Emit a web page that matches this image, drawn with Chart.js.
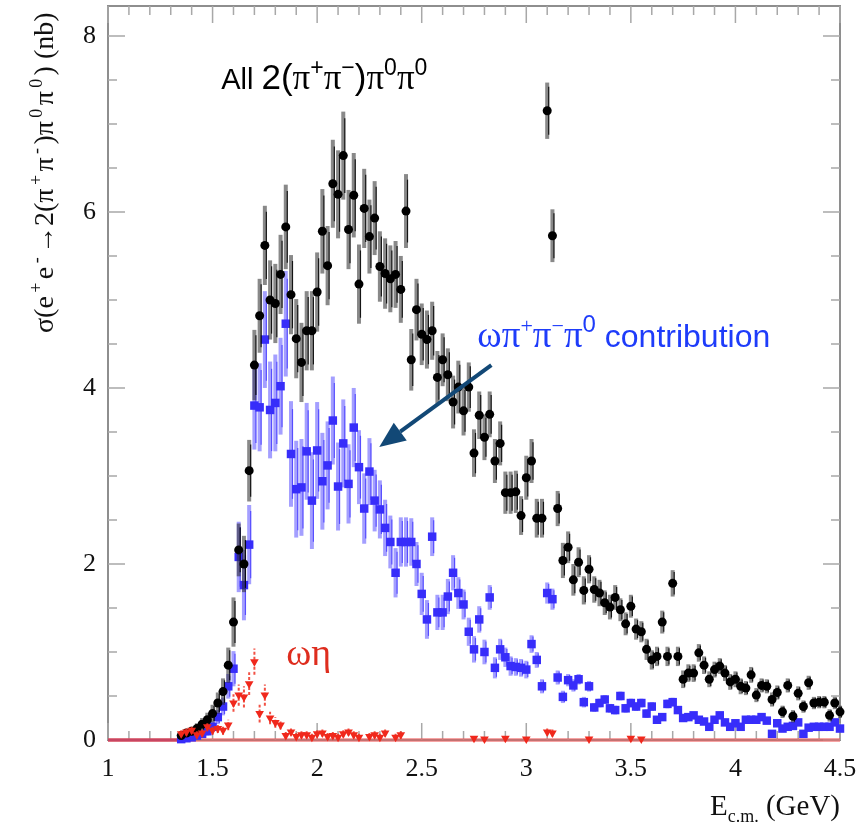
<!DOCTYPE html>
<html>
<head>
<meta charset="utf-8">
<script src="https://cdn.jsdelivr.net/npm/chart.js@4.4.1/dist/chart.umd.min.js"></script>
<style>
  html, body { margin: 0; padding: 0; background: #fff; }
  #wrap { width: 863px; height: 829px; }
</style>
</head>
<body>
<div id="wrap"><canvas id="xsec" width="863" height="829"></canvas></div>
<script>
// bin centres in GeV (25 MeV bins), shared by the full sample and the omega pi pi pi0 part
const energyBins = [
  1.35, 1.375, 1.4, 1.425, 1.45, 1.475, 1.5, 1.525, 1.55, 1.575,
  1.6, 1.625, 1.65, 1.675, 1.7, 1.725, 1.75, 1.775, 1.8, 1.825,
  1.85, 1.875, 1.9, 1.925, 1.95, 1.975, 2.0, 2.025, 2.05, 2.075,
  2.1, 2.125, 2.15, 2.175, 2.2, 2.225, 2.25, 2.275, 2.3, 2.325,
  2.35, 2.375, 2.4, 2.425, 2.45, 2.475, 2.5, 2.525, 2.55, 2.575,
  2.6, 2.625, 2.65, 2.675, 2.7, 2.725, 2.75, 2.775, 2.8, 2.825,
  2.85, 2.875, 2.9, 2.925, 2.95, 2.975, 3.0, 3.025, 3.05, 3.075,
  3.1, 3.125, 3.15, 3.175, 3.2, 3.225, 3.25, 3.275, 3.3, 3.325,
  3.35, 3.375, 3.4, 3.425, 3.45, 3.475, 3.5, 3.525, 3.55, 3.575,
  3.6, 3.625, 3.65, 3.675, 3.7, 3.725, 3.75, 3.775, 3.8, 3.825,
  3.85, 3.875, 3.9, 3.925, 3.95, 3.975, 4.0, 4.025, 4.05, 4.075,
  4.1, 4.125, 4.15, 4.175, 4.2, 4.225, 4.25, 4.275, 4.3, 4.325,
  4.35, 4.375, 4.4, 4.425, 4.45, 4.475, 4.5
];

// all 2(pi+pi-)pi0pi0, nb
const sigmaAll = [
  0.05, 0.08, 0.10, 0.13, 0.18, 0.23, 0.30, 0.42, 0.55, 0.85,
  1.34, 2.16, 2.00, 3.06, 4.26, 4.82, 5.62, 5.00, 4.96, 5.29,
  5.83, 5.06, 4.56, 4.29, 4.65, 4.65, 5.09, 5.78, 5.39, 6.32,
  6.20, 6.64, 5.80, 6.19, 5.18, 6.04, 5.72, 5.93, 5.38, 5.30,
  5.24, 5.29, 5.12, 6.01, 4.32, 4.89, 4.61, 4.55, 4.65, 4.12,
  4.32, 4.15, 3.84, 4.01, 3.74, 4.01, 3.26, 3.69, 3.44, 3.70,
  3.17, 3.37, 2.81, 2.81, 2.82, 2.55, 2.98, 3.17, 2.52, 2.52,
  7.15, 5.73, 2.63, 2.04, 2.19, 1.82, 2.02, 1.70, 1.94, 1.71,
  1.67, 1.56, 1.51, 1.62, 1.48, 1.32, 1.52, 1.26, 1.23, 1.03,
  0.91, 0.95, 1.34, 0.95, 1.78, 0.95, 0.69, 0.76, 0.76, 0.99,
  0.85, 0.69, 0.80, 0.84, 0.76, 0.66, 0.69, 0.61, 0.59, 0.74,
  0.51, 0.62, 0.61, 0.46, 0.54, 0.32, 0.62, 0.27, 0.53, 0.38,
  0.65, 0.42, 0.43, 0.43, 0.28, 0.42, 0.32
];
const errAll = [
  0.03, 0.04, 0.05, 0.06, 0.07, 0.08, 0.10, 0.12, 0.15, 0.20,
  0.28, 0.30, 0.32, 0.35, 0.40, 0.42, 0.45, 0.45, 0.45, 0.45,
  0.48, 0.45, 0.45, 0.45, 0.45, 0.45, 0.45, 0.48, 0.45, 0.50,
  0.50, 0.50, 0.45, 0.48, 0.45, 0.45, 0.42, 0.42, 0.40, 0.40,
  0.38, 0.38, 0.38, 0.42, 0.35, 0.35, 0.35, 0.33, 0.33, 0.30,
  0.30, 0.30, 0.30, 0.30, 0.28, 0.28, 0.27, 0.27, 0.26, 0.26,
  0.25, 0.25, 0.24, 0.24, 0.24, 0.22, 0.25, 0.25, 0.22, 0.22,
  0.32, 0.30, 0.20, 0.20, 0.18, 0.18, 0.17, 0.16, 0.16, 0.15,
  0.15, 0.14, 0.14, 0.14, 0.13, 0.13, 0.13, 0.12, 0.12, 0.12,
  0.11, 0.11, 0.13, 0.11, 0.15, 0.11, 0.10, 0.10, 0.10, 0.10,
  0.10, 0.09, 0.09, 0.09, 0.09, 0.09, 0.09, 0.09, 0.08, 0.09,
  0.08, 0.08, 0.08, 0.08, 0.08, 0.07, 0.08, 0.07, 0.08, 0.07,
  0.08, 0.07, 0.07, 0.07, 0.07, 0.07, 0.07
];

// omega pi+ pi- pi0 contribution, nb
const sigmaOmega3pi = [
  0.01, 0.02, 0.03, 0.05, 0.07, 0.10, 0.15, 0.26, 0.38, 0.61,
  0.81, 2.08, 1.76, 2.22, 3.80, 3.78, 4.55, 3.75, 3.83, 4.02,
  4.73, 3.25, 2.85, 2.87, 3.28, 2.72, 3.29, 2.94, 3.12, 3.63,
  2.88, 3.37, 2.91, 3.55, 3.10, 2.63, 3.05, 2.72, 2.62, 2.41,
  2.25, 1.90, 2.25, 2.25, 2.25, 2.00, 1.66, 1.37, 2.31, 1.45,
  1.45, 1.63, 1.90, 1.67, 1.54, 1.23, 1.03, 1.37, 1.00, 1.62,
  0.82, 1.03, 0.94, 0.84, 0.83, 0.82, 0.80, 1.09, 0.91, 0.61,
  1.67, 1.60, 0.71, 0.49, 0.68, 0.62, 0.69, 0.43, 0.61, 0.37,
  0.42, 0.46, 0.36, 0.34, 0.50, 0.36, 0.42, 0.38, 0.42, 0.30,
  0.38, 0.23, 0.26, 0.41, 0.43, 0.34, 0.25, 0.26, 0.28, 0.23,
  0.21, 0.15, 0.23, 0.28, 0.20, 0.15, 0.19, 0.15, 0.23, 0.23,
  0.23, 0.26, 0.22, 0.07, 0.19, 0.13, 0.15, 0.16, 0.20, 0.07,
  0.14, 0.15, 0.15, 0.15, 0.15, 0.20, 0.13
];
const errOmega3pi = [
  0.01, 0.02, 0.02, 0.03, 0.04, 0.05, 0.06, 0.08, 0.10, 0.14,
  0.20, 0.40, 0.40, 0.45, 0.50, 0.50, 0.55, 0.55, 0.55, 0.55,
  0.60, 0.60, 0.55, 0.55, 0.55, 0.55, 0.55, 0.55, 0.50, 0.50,
  0.50, 0.50, 0.45, 0.45, 0.42, 0.40, 0.38, 0.35, 0.33, 0.32,
  0.30, 0.28, 0.28, 0.28, 0.27, 0.25, 0.24, 0.22, 0.22, 0.20,
  0.20, 0.20, 0.20, 0.18, 0.17, 0.16, 0.15, 0.15, 0.14, 0.14,
  0.12, 0.12, 0.11, 0.11, 0.10, 0.10, 0.10, 0.10, 0.09, 0.08,
  0.12, 0.12, 0.08, 0.07, 0.07, 0.07, 0.06, 0.06, 0.06, 0.05,
  0.05, 0.05, 0.05, 0.05, 0.05, 0.05, 0.05, 0.05, 0.05, 0.05,
  0.05, 0.04, 0.04, 0.05, 0.05, 0.04, 0.04, 0.04, 0.04, 0.04,
  0.04, 0.04, 0.04, 0.04, 0.04, 0.04, 0.04, 0.04, 0.04, 0.04,
  0.04, 0.04, 0.04, 0.04, 0.04, 0.04, 0.04, 0.04, 0.04, 0.04,
  0.04, 0.04, 0.04, 0.04, 0.04, 0.04, 0.04
];

// omega eta
const energyOmegaEta = [
  1.35, 1.375, 1.4, 1.425, 1.45, 1.475, 1.5, 1.525, 1.55, 1.575,
  1.6, 1.625, 1.65, 1.675, 1.7, 1.725, 1.75, 1.775, 1.8, 1.825,
  1.85, 1.875, 1.9, 1.925, 1.95, 1.975, 2.0, 2.025, 2.05, 2.075,
  2.1, 2.125, 2.15, 2.175, 2.2, 2.25, 2.275, 2.3, 2.325, 2.375,
  2.4, 2.75, 2.8, 2.9, 3.0, 3.1, 3.125, 3.3, 3.5, 3.55
];
const sigmaOmegaEta = [
  0.07, 0.09, 0.11, 0.06, 0.08, 0.15, 0.11, 0.13, 0.11, 0.17,
  0.42, 0.51, 0.49, 0.64, 0.89, 0.30, 0.51, 0.25, 0.20, 0.17,
  0.05, 0.09, 0.04, 0.06, 0.06, 0.03, 0.07, 0.08, 0.04, 0.05,
  0.03, 0.07, 0.09, 0.06, 0.03, 0.04, 0.06, 0.03, 0.08, 0.03,
  0.06, 0.02, 0.01, 0.02, 0.01, 0.09, 0.08, 0.01, 0.02, 0.01
];
const errOmegaEta = [
  0.04, 0.04, 0.04, 0.04, 0.04, 0.05, 0.05, 0.05, 0.05, 0.06,
  0.10, 0.12, 0.12, 0.13, 0.15, 0.10, 0.12, 0.07, 0.06, 0.05,
  0.04, 0.04, 0.04, 0.04, 0.04, 0.04, 0.04, 0.04, 0.04, 0.04,
  0.04, 0.04, 0.04, 0.04, 0.04, 0.04, 0.04, 0.04, 0.04, 0.04,
  0.04, 0.03, 0.03, 0.03, 0.03, 0.04, 0.04, 0.03, 0.03, 0.03
];

// zero baseline drawn along the bottom
const baselineE = [1.0, 4.5];
const lowTailE = [1.0, 1.35];
const baselineSigma = [0, 0];

const xTickValues = [1, 1.5, 2, 2.5, 3, 3.5, 4, 4.5];
const yTickValues = [0, 2, 4, 6, 8];

function toPoints(xs, ys) {
  return xs.map((x, i) => ({ x: x, y: ys[i] }));
}

// draws a run of text pieces (plain / sup / sub) one after another,
// optional total spreads the run out to that length
function drawRich(ctx, x, y, parts, total) {
  let w = 0;
  parts.forEach(p => { ctx.font = p.size + 'px ' + p.family; w += ctx.measureText(p.t).width; });
  const gap = total ? Math.max(total - w, 0) / parts.length : 0;
  parts.forEach(p => {
    ctx.font = p.size + 'px ' + p.family;
    ctx.fillText(p.t, x, y + (p.dy || 0));
    x += ctx.measureText(p.t).width + gap;
  });
  return x;
}

const SERIF = '"Liberation Serif", "DejaVu Serif", serif';
const SANS = '"Liberation Sans", Arial, sans-serif';

const errorBars = {
  id: 'errorBars',
  beforeDatasetDraw(chart, args) {
    const ds = chart.data.datasets[args.index];
    if (!ds.errors) return;
    const ctx = chart.ctx;
    const ys = chart.scales.y;
    ctx.save();
    args.meta.data.forEach((pt, i) => {
      const v = ds.data[i].y, e = ds.errors[i];
      const y1 = ys.getPixelForValue(Math.max(v - e, 0));
      const y2 = ys.getPixelForValue(v + e);
      ctx.setLineDash(ds.errDash || []);
      ctx.strokeStyle = ds.errColor;
      ctx.lineWidth = ds.errWidth;
      ctx.beginPath();
      ctx.moveTo(pt.x, y1);
      ctx.lineTo(pt.x, y2);
      ctx.stroke();
      if (ds.errInner) {
        ctx.strokeStyle = ds.errInner;
        ctx.lineWidth = 1.2;
        ctx.beginPath();
        ctx.moveTo(pt.x + 1.5, ys.getPixelForValue(Math.max(v - e * 0.85, 0)));
        ctx.lineTo(pt.x + 1.5, ys.getPixelForValue(v + e * 0.85));
        ctx.stroke();
      }
    });
    ctx.restore();
  }
};

const frameAndTicks = {
  id: 'frameAndTicks',
  beforeDatasetsDraw(chart) {
    const ctx = chart.ctx;
    const { left, right, top, bottom } = chart.chartArea;
    const xs = chart.scales.x, ys = chart.scales.y;
    ctx.save();
    ctx.strokeStyle = '#8e8e8e';
    ctx.lineWidth = 2;
    ctx.strokeRect(left, top, right - left, bottom - top);
    ctx.lineWidth = 1.5;
    ctx.strokeStyle = '#a8a8a8';
    ctx.beginPath();
    for (let i = 10; i <= 45; i++) {
      const px = xs.getPixelForValue(i / 10);
      const len = i % 5 === 0 ? 17 : 9;
      ctx.moveTo(px, bottom); ctx.lineTo(px, bottom - len);
      ctx.moveTo(px, top); ctx.lineTo(px, top + len);
    }
    for (let i = 0; i <= 16; i++) {
      const py = ys.getPixelForValue(i / 2);
      const len = i % 4 === 0 ? 17 : 9;
      ctx.moveTo(left, py); ctx.lineTo(left + len, py);
      ctx.moveTo(right, py); ctx.lineTo(right - len, py);
    }
    ctx.stroke();
    ctx.restore();
  }
};

const labels = {
  id: 'labels',
  afterDraw(chart) {
    const ctx = chart.ctx;
    const xs = chart.scales.x, ys = chart.scales.y;
    ctx.save();
    ctx.textBaseline = 'alphabetic';
    ctx.textAlign = 'left';

    // y-axis title, reads bottom to top
    ctx.fillStyle = '#111';
    ctx.save();
    ctx.translate(53, 333);
    ctx.rotate(-Math.PI / 2);
    drawRich(ctx, 0, 0, [
      { t: 'σ(e', size: 28, family: SERIF },
      { t: '+', size: 18, family: SERIF, dy: -11 },
      { t: 'e', size: 28, family: SERIF },
      { t: '-', size: 18, family: SERIF, dy: -11 },
      { t: '→2(π', size: 28, family: SERIF },
      { t: '+', size: 18, family: SERIF, dy: -11 },
      { t: 'π', size: 28, family: SERIF },
      { t: '-', size: 18, family: SERIF, dy: -11 },
      { t: ')π', size: 28, family: SERIF },
      { t: '0', size: 18, family: SERIF, dy: -11 },
      { t: 'π', size: 28, family: SERIF },
      { t: '0', size: 18, family: SERIF, dy: -11 },
      { t: ') (nb)', size: 28, family: SERIF }
    ], 324);
    ctx.restore();

    // x-axis title, right aligned to the frame
    const xParts = [
      { t: 'E', size: 29, family: SERIF },
      { t: 'c.m.', size: 18, family: SERIF, dy: 7 },
      { t: ' (GeV)', size: 29, family: SERIF }
    ];
    let w = 0;
    xParts.forEach(p => { ctx.font = p.size + 'px ' + p.family; w += ctx.measureText(p.t).width; });
    drawRich(ctx, chart.chartArea.right - w, 815, xParts);

    // sample label
    ctx.fillStyle = '#000';
    drawRich(ctx, xs.getPixelForValue(1.541), ys.getPixelForValue(7.40), [
      { t: 'All ', size: 29, family: SANS },
      { t: '2(', size: 35, family: SANS },
      { t: 'π', size: 35, family: SERIF },
      { t: '+', size: 23, family: SANS, dy: -14 },
      { t: 'π', size: 35, family: SERIF },
      { t: '−', size: 23, family: SANS, dy: -14 },
      { t: ')', size: 35, family: SANS },
      { t: 'π', size: 35, family: SERIF },
      { t: '0', size: 23, family: SANS, dy: -14 },
      { t: 'π', size: 35, family: SERIF },
      { t: '0', size: 23, family: SANS, dy: -14 }
    ]);

    // omega pi pi pi0 label
    ctx.fillStyle = 'rgb(30,60,250)';
    drawRich(ctx, xs.getPixelForValue(2.766), ys.getPixelForValue(4.46), [
      { t: 'ωπ', size: 37, family: SERIF },
      { t: '+', size: 22, family: SERIF, dy: -14 },
      { t: 'π', size: 37, family: SERIF },
      { t: '−', size: 22, family: SERIF, dy: -14 },
      { t: 'π', size: 37, family: SERIF },
      { t: '0', size: 24, family: SANS, dy: -15 },
      { t: ' contribution', size: 32, family: SANS }
    ]);

    // omega eta label
    ctx.fillStyle = 'rgb(222,45,30)';
    drawRich(ctx, xs.getPixelForValue(1.852), ys.getPixelForValue(0.85), [
      { t: 'ωη', size: 38, family: SERIF }
    ]);

    // arrow pointing at the omega pi pi pi0 band
    const x0 = xs.getPixelForValue(2.833), y0 = ys.getPixelForValue(4.26);
    const x1 = xs.getPixelForValue(2.297), y1 = ys.getPixelForValue(3.33);
    const ang = Math.atan2(y1 - y0, x1 - x0);
    const head = 26, half = 11;
    const bx = x1 - head * Math.cos(ang), by = y1 - head * Math.sin(ang);
    ctx.strokeStyle = 'rgb(18,72,118)';
    ctx.fillStyle = 'rgb(18,72,118)';
    ctx.lineWidth = 4;
    ctx.beginPath();
    ctx.moveTo(x0, y0);
    ctx.lineTo(bx, by);
    ctx.stroke();
    ctx.beginPath();
    ctx.moveTo(x1, y1);
    ctx.lineTo(bx + half * Math.sin(ang), by - half * Math.cos(ang));
    ctx.lineTo(bx - half * Math.sin(ang), by + half * Math.cos(ang));
    ctx.closePath();
    ctx.fill();
    ctx.restore();
  }
};

new Chart(document.getElementById('xsec').getContext('2d'), {
  type: 'scatter',
  data: {
    datasets: [
      {
        label: 'ωη',
        data: toPoints(energyOmegaEta, sigmaOmegaEta),
        errors: errOmegaEta,
        errColor: 'rgba(240,50,35,0.85)',
        errWidth: 2,
        errDash: [3, 2],
        pointStyle: 'triangle',
        rotation: 180,
        radius: 5,
        backgroundColor: 'rgb(240,40,28)',
        borderWidth: 0,
        clip: false,
        order: 1
      },
      {
        label: 'All 2(π+π−)π0π0',
        data: toPoints(energyBins, sigmaAll),
        errors: errAll,
        errColor: 'rgba(40,40,40,0.55)',
        errInner: 'rgba(0,0,0,0.85)',
        errWidth: 4,
        pointStyle: 'circle',
        radius: 4.5,
        backgroundColor: '#000',
        borderWidth: 0,
        clip: false,
        order: 2
      },
      {
        label: 'ωπ+π−π0',
        data: toPoints(energyBins, sigmaOmega3pi),
        errors: errOmega3pi,
        errColor: 'rgba(90,80,255,0.55)',
        errInner: 'rgba(60,50,255,0.75)',
        errWidth: 4,
        pointStyle: 'rect',
        radius: 6,
        backgroundColor: 'rgb(55,45,250)',
        borderWidth: 0,
        clip: false,
        order: 3
      },
      {
        type: 'line',
        data: toPoints(baselineE, baselineSigma),
        borderColor: 'rgba(240,90,90,0.55)',
        borderWidth: 4,
        pointRadius: 0,
        clip: false,
        order: 4
      },
      {
        type: 'line',
        data: toPoints(lowTailE, baselineSigma),
        borderColor: 'rgb(150,45,110)',
        borderWidth: 3,
        pointRadius: 0,
        clip: false,
        order: 4
      }
    ]
  },
  options: {
    responsive: false,
    animation: false,
    events: [],
    layout: { padding: { top: 5, right: 23, left: 0, bottom: 0 } },
    plugins: {
      legend: { display: false },
      tooltip: { enabled: false }
    },
    scales: {
      x: {
        type: 'linear',
        min: 1,
        max: 4.5,
        afterBuildTicks: s => { s.ticks = xTickValues.map(v => ({ value: v })); },
        afterFit: s => { s.height = 89; s.paddingLeft = 0; s.paddingRight = 0; },
        grid: { display: false, drawTicks: false },
        border: { display: false },
        ticks: {
          autoSkip: false,
          maxRotation: 0,
          padding: 14,
          color: '#111',
          font: { family: SERIF, size: 26 },
          callback: v => String(v)
        }
      },
      y: {
        type: 'linear',
        min: 0,
        max: 8.34,
        afterBuildTicks: s => { s.ticks = yTickValues.map(v => ({ value: v })); },
        afterFit: s => { s.width = 108; s.paddingTop = 0; s.paddingBottom = 0; },
        grid: { display: false, drawTicks: false },
        border: { display: false },
        ticks: {
          padding: 12,
          color: '#111',
          font: { family: SERIF, size: 26 },
          callback: v => String(v)
        }
      }
    }
  },
  plugins: [frameAndTicks, errorBars, labels]
});
</script>
</body>
</html>
